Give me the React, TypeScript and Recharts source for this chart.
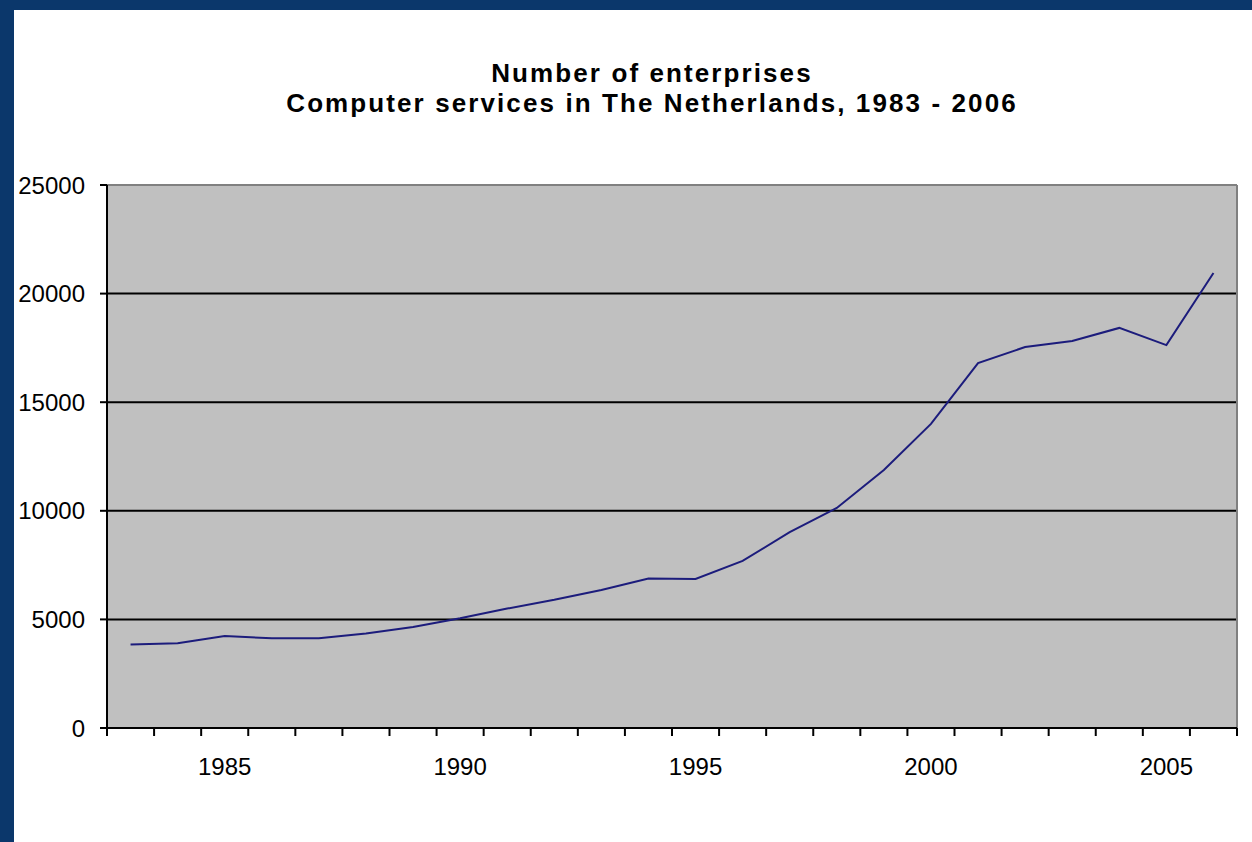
import React from "react";
import {
  LineChart,
  Line,
  XAxis,
  YAxis,
  CartesianGrid,
  ReferenceLine,
} from "recharts";

const years = [
  1983, 1984, 1985, 1986, 1987, 1988, 1989, 1990, 1991, 1992, 1993, 1994,
  1995, 1996, 1997, 1998, 1999, 2000, 2001, 2002, 2003, 2004, 2005, 2006,
];
const enterprises = [
  3850, 3900, 4230, 4130, 4130, 4350, 4650, 5050, 5500, 5900, 6350, 6880,
  6860, 7690, 9020, 10130, 11880, 14000, 16800, 17540, 17820, 18420, 17630,
  20950,
];
const yTicks = [0, 5000, 10000, 15000, 20000, 25000];
const gridValues = [5000, 10000, 15000, 20000];
const labelYears = [1985, 1990, 1995, 2000, 2005];
const titleLines = [
  "Number of enterprises",
  "Computer services in The Netherlands, 1983 - 2006",
];

const data = years.map((y, i) => ({ year: y, value: enterprises[i] }));
const boundaries = [...years.map((y) => y - 0.5), years[years.length - 1] + 0.5];

const FONT = "'Liberation Sans', Arial, sans-serif";

const XTick = (props: any) => {
  const { x, y, payload, width } = props;
  const yr = payload.value + 0.5;
  if (!labelYears.includes(yr)) return null;
  const half = width / years.length / 2;
  return (
    <text
      x={x + half}
      y={y}
      dy="0.71em"
      textAnchor="middle"
      fill="#000"
      fontSize={24}
      fontFamily={FONT}
    >
      {yr}
    </text>
  );
};

export default function App() {
  return (
    <div
      style={{
        position: "absolute",
        left: 0,
        top: 0,
        width: 1252,
        height: 842,
        background: "#0b376b",
        overflow: "hidden",
      }}
    >
      <div
        style={{
          position: "absolute",
          left: 14,
          top: 10,
          width: 1238,
          height: 832,
          background: "#ffffff",
        }}
      />
      <div
        style={{
          position: "absolute",
          left: 152,
          top: 58,
          width: 1000,
          textAlign: "center",
          fontFamily: FONT,
          fontWeight: "bold",
          fontSize: 26,
          lineHeight: "30px",
          letterSpacing: 2.1,
          color: "#000",
        }}
      >
        {titleLines.map((t) => (
          <div key={t}>{t}</div>
        ))}
      </div>
      <div style={{ position: "absolute", left: 0, top: 0 }}>
        <LineChart
          width={1252}
          height={842}
          data={data}
          margin={{ top: 185, right: 15, bottom: 84, left: 47 }}
        >
          <CartesianGrid
            fill="#c0c0c0"
            fillOpacity={1}
            vertical={false}
            horizontal={false}
          />
          {gridValues.map((v) => (
            <ReferenceLine
              key={v}
              y={v}
              stroke="#000"
              strokeWidth={2}
            />
          ))}
          <ReferenceLine y={25000} stroke="#808080" strokeWidth={2} />
          <ReferenceLine x={boundaries[boundaries.length - 1]} stroke="#808080" strokeWidth={2} />
          <XAxis
            dataKey="year"
            type="number"
            domain={[boundaries[0], boundaries[boundaries.length - 1]]}
            ticks={boundaries}
            interval={0}
            allowDecimals
            stroke="#000"
            strokeWidth={2}
            tickSize={8}
            tickMargin={22}
            tick={<XTick />}
            height={30}
          />
          <YAxis
            type="number"
            domain={[0, 25000]}
            ticks={yTicks}
            interval={0}
            stroke="#000"
            strokeWidth={2}
            tickSize={7}
            tickMargin={15}
            width={60}
            tick={{ fill: "#000", fontSize: 24, fontFamily: FONT }}
          />
          <Line
            type="linear"
            dataKey="value"
            stroke="#1c1c7c"
            strokeWidth={2}
            dot={false}
            activeDot={false}
            isAnimationActive={false}
          />
        </LineChart>
      </div>
    </div>
  );
}
